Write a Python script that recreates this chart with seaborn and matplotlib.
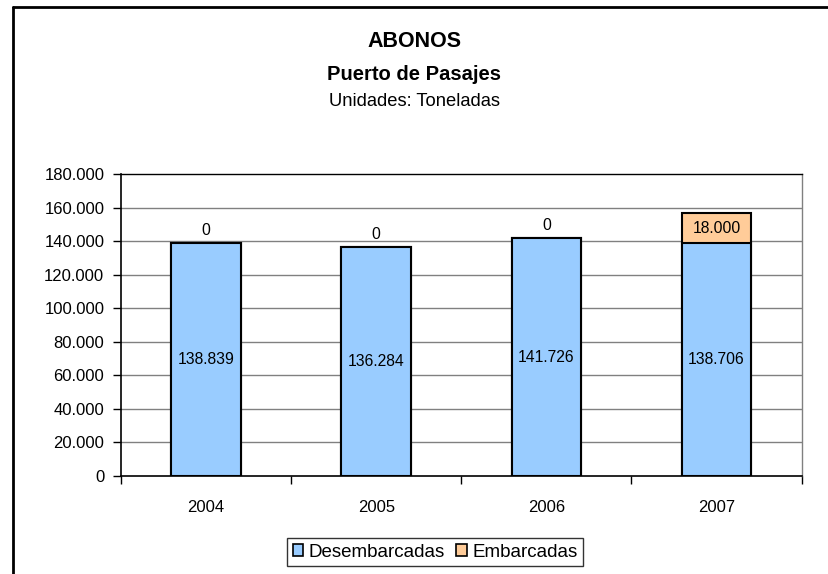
import matplotlib
matplotlib.use("Agg")
import matplotlib.pyplot as plt
import matplotlib.ticker as mticker
from matplotlib.lines import Line2D
from matplotlib.patches import Patch
import pandas as pd
import seaborn as sns

years = ["2004", "2005", "2006", "2007"]
desembarcadas = [138839, 136284, 141726, 138706]
embarcadas = [0, 0, 0, 18000]

BLUE = "#99CCFF"
ORANGE = "#FFCC99"


def fmt_es(v):
    return f"{int(round(v)):,}".replace(",", ".")


sns.set_theme(style="white")
plt.rcParams["font.family"] = ["Liberation Sans", "DejaVu Sans"]
plt.rcParams.update({"text.color": "black", "xtick.color": "black",
                     "ytick.color": "black", "axes.labelcolor": "black"})

df = pd.DataFrame({"year": years, "des": desembarcadas, "emb": embarcadas})
df["total"] = df["des"] + df["emb"]

fig = plt.figure(figsize=(8.29, 5.74), dpi=100)
ax = fig.add_axes([0.146, 0.1707, 0.821, 0.526])

# stacked: total first (orange), then lower segment (blue) on top
sns.barplot(data=df, x="year", y="total", color=ORANGE, width=0.41,
            edgecolor="black", linewidth=1.5, saturation=1, ax=ax)
sns.barplot(data=df, x="year", y="des", color=BLUE, width=0.41,
            edgecolor="black", linewidth=1.5, saturation=1, ax=ax)

ax.set_ylim(0, 180000)
ax.set_xlim(-0.5, 3.5)
ax.set_yticks(range(0, 180001, 20000))
ax.yaxis.set_major_formatter(mticker.FuncFormatter(lambda v, p: fmt_es(v)))
ax.set_xlabel("")
ax.set_ylabel("")

for y in range(20000, 180000, 20000):
    ax.axhline(y, color="#808080", linewidth=1, zorder=0)

ax.tick_params(axis="y", direction="out", length=6, width=1, color="black",
               labelsize=12, pad=6, left=True)
ax.tick_params(axis="x", which="major", length=0, labelsize=12, pad=17)
ax.set_xticks([-0.5, 0.5, 1.5, 2.5, 3.5], minor=True)
ax.tick_params(axis="x", which="minor", direction="out", length=6, width=1,
               color="black", bottom=True)

for side in ["left", "bottom"]:
    ax.spines[side].set_color("black")
    ax.spines[side].set_linewidth(1.2)
ax.spines["top"].set_color("black")
ax.spines["top"].set_linewidth(1)
ax.spines["right"].set_color("#808080")
ax.spines["right"].set_linewidth(1)

# value labels
for i, row in df.iterrows():
    ax.text(i, row["des"] / 2, fmt_es(row["des"]), ha="center", va="center",
            fontsize=11.3, color="black")
    if row["emb"] > 0:
        ax.text(i, row["des"] + row["emb"] / 2, fmt_es(row["emb"]),
                ha="center", va="center", fontsize=11.3, color="black")
    else:
        ax.annotate(fmt_es(row["emb"]), (i, row["total"]), xytext=(0, 9),
                    textcoords="offset points", ha="center", va="center",
                    fontsize=11.3, color="black")

fig.text(0.5, 0.928, "ABONOS", ha="center", va="center", fontsize=15.5,
         fontweight="bold")
fig.text(0.5, 0.871, "Puerto de Pasajes", ha="center", va="center",
         fontsize=14.5, fontweight="bold")
fig.text(0.5, 0.824, "Unidades: Toneladas", ha="center", va="center",
         fontsize=13.2)

handles = [Patch(facecolor=BLUE, edgecolor="black", linewidth=1.2, label="Desembarcadas"),
           Patch(facecolor=ORANGE, edgecolor="black", linewidth=1.2, label="Embarcadas")]
leg = fig.legend(handles=handles, loc="center", bbox_to_anchor=(0.525, 0.038),
                 ncol=2, frameon=True, fancybox=False, fontsize=13.5,
                 handlelength=0.55, handleheight=0.55, handletextpad=0.3,
                 columnspacing=0.6, borderpad=0.3)
leg.get_frame().set_edgecolor("black")
leg.get_frame().set_linewidth(1)

# outer chart frame (left and top edges visible)
fig.add_artist(Line2D([13 / 829, 13 / 829], [0, 1 - 7 / 574], color="black",
                      linewidth=2, transform=fig.transFigure))
fig.add_artist(Line2D([13 / 829, 1], [1 - 7 / 574, 1 - 7 / 574], color="black",
                      linewidth=2, transform=fig.transFigure))

fig.savefig("out.png", dpi=100)
